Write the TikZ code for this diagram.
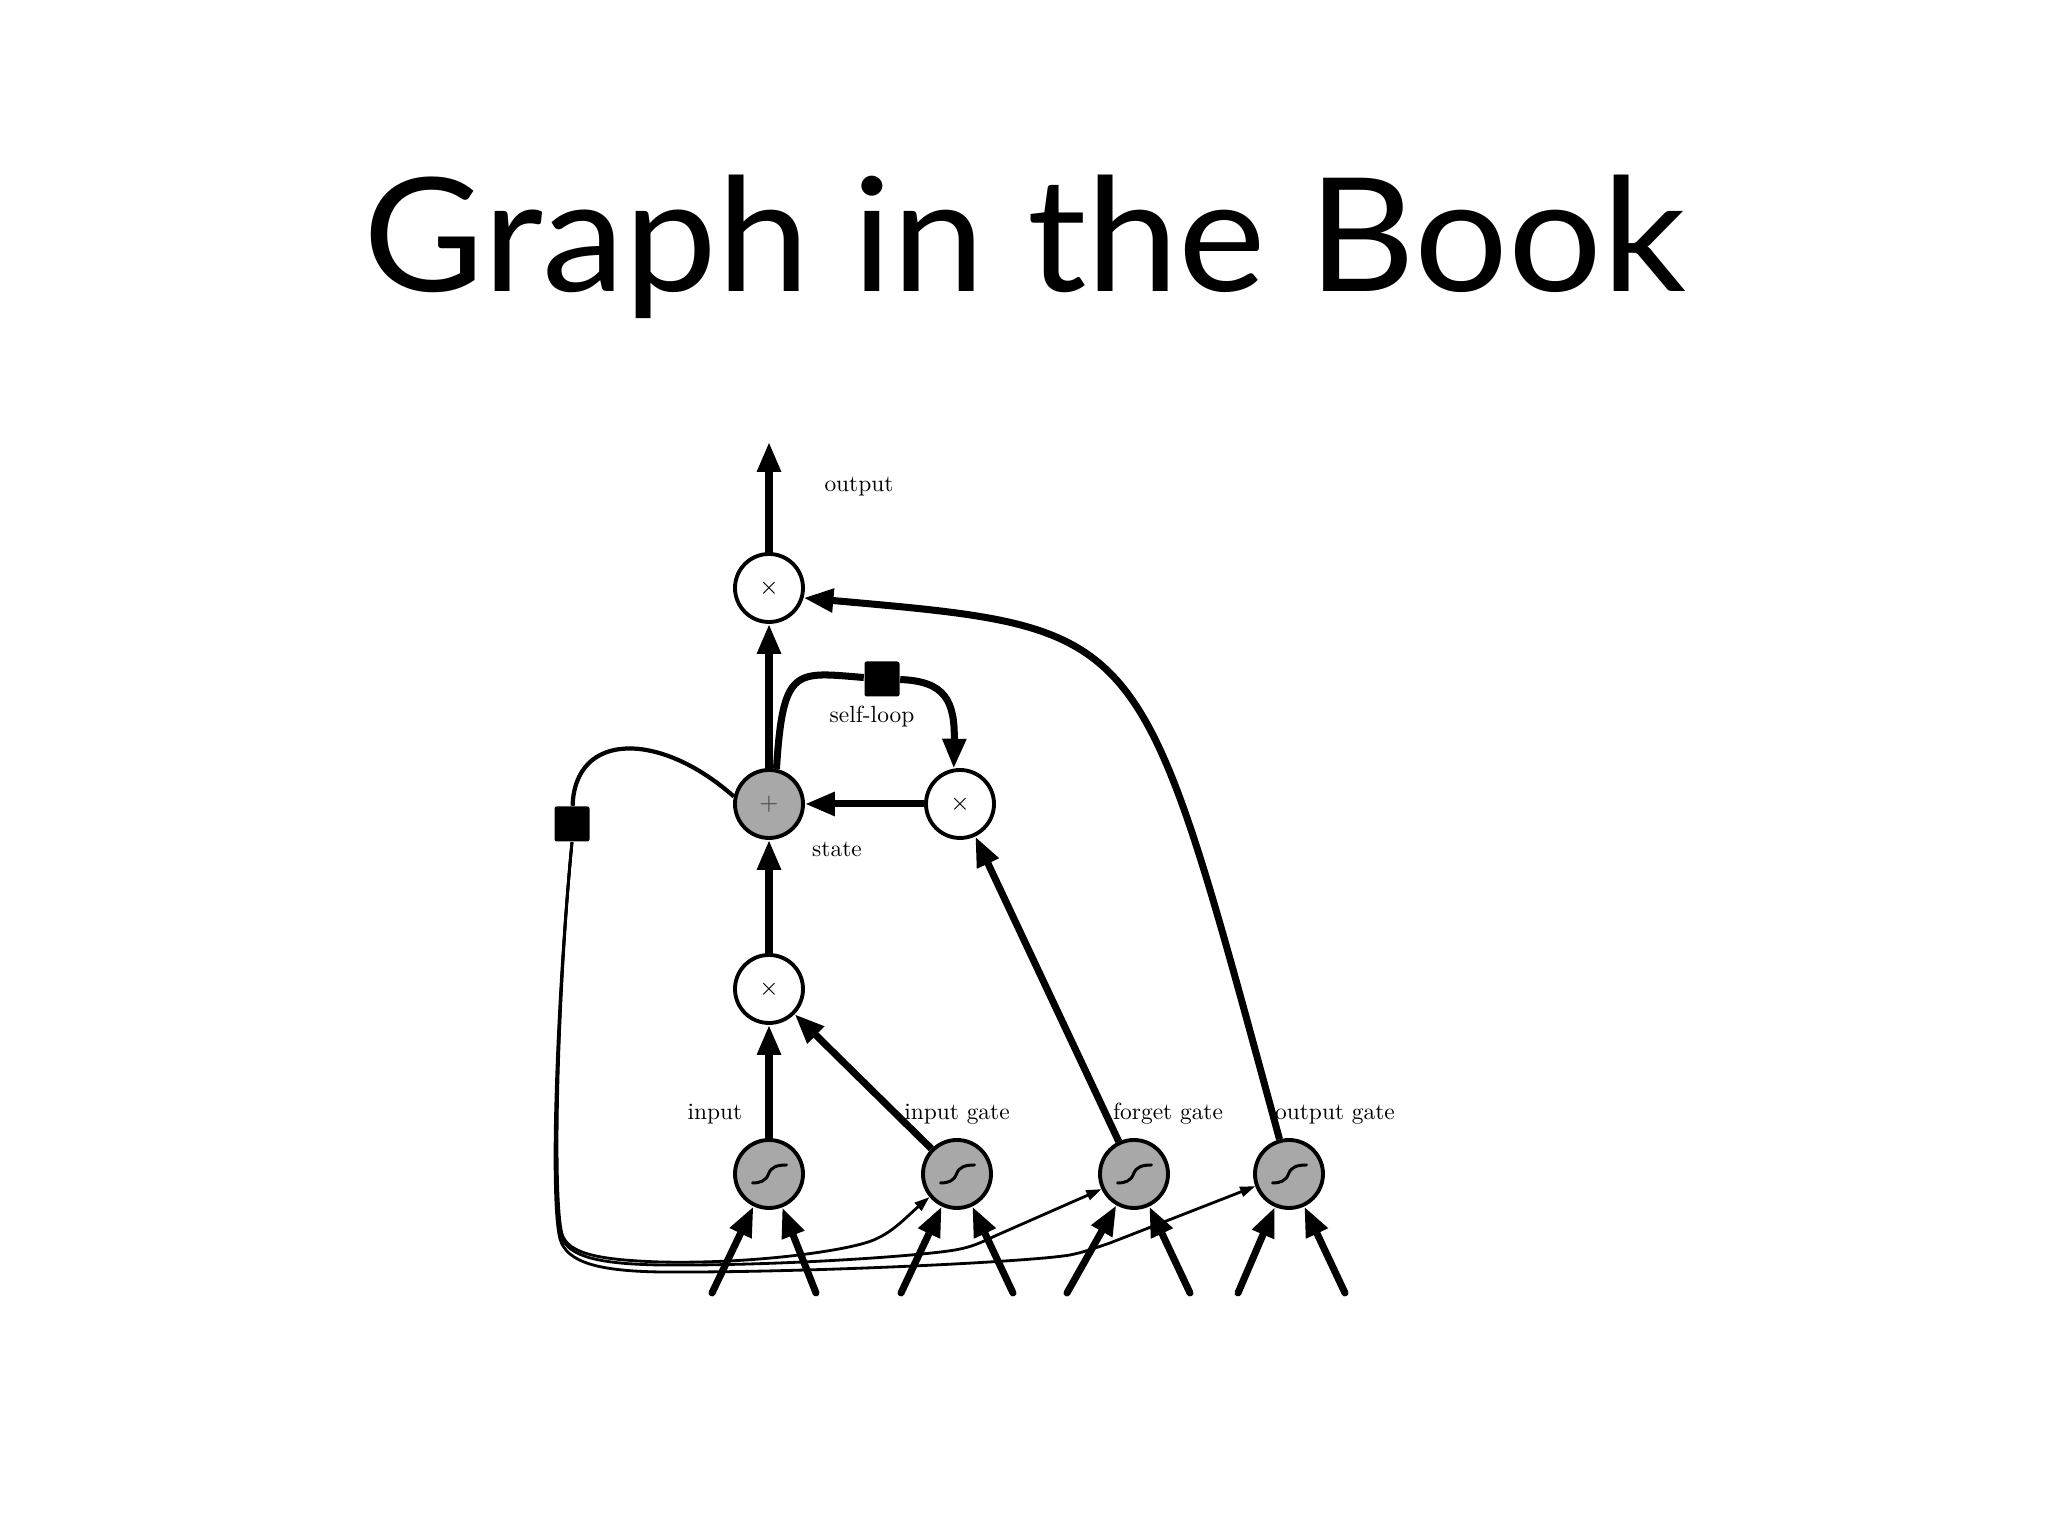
\documentclass[tikz,border=0pt]{standalone}
\usepackage{fontspec}
\usepackage{tikz}
\usetikzlibrary{arrows.meta}
\newfontfamily\titlefont{Lato}
\definecolor{nodegray}{RGB}{168,168,168}

\begin{document}
\begin{tikzpicture}[>={Triangle[length=8.5pt,width=6.4pt]},
  op/.style={circle,draw,line width=1.1,minimum size=6.8mm,inner sep=0pt,fill=white,font=\fontsize{6.5}{8}\selectfont},
  sig/.style={op,fill=nodegray,path picture={\draw[line width=0.85pt,line cap=round,shift={(path picture bounding box.center)}]
      (-0.165,-0.09) .. controls (-0.09,-0.09) and (-0.03,-0.07) .. (-0.005,0) .. controls (0.02,0.07) and (0.08,0.09) .. (0.175,0.09);}},
  sq/.style={fill=black,minimum size=3.5mm,inner sep=0pt,rounded corners=0.6pt},
  lbl/.style={scale=0.666,anchor=base},
  flow/.style={line width=2,->},
  feed/.style={line width=2,line cap=round,->},
  skip/.style={line width=0.8,-{Triangle[length=4.3pt,width=2.9pt]}}]
  \fill[white] (0,0) rectangle (20.48,15.36);
  \node[font=\titlefont\fontsize{45}{54}\selectfont,anchor=base,xscale=1.047] (title) at (10.25,12.44) {Graph in the Book};

  \node[op] (mulout) at (7.69,9.48) {$\times$};
  \node[op,fill=nodegray] (state) at (7.69,7.32) {\color{black!70}$+$};
  \node[op] (mulloop) at (9.60,7.32) {$\times$};
  \node[op] (mulin) at (7.69,5.47) {$\times$};
   \node[sig] (sigin) at (7.69,3.62) {};
   \node[sig] (sigig) at (9.57,3.62) {};
   \node[sig] (sigfg) at (11.34,3.62) {};
   \node[sig] (sigog) at (12.89,3.62) {};
  \node[sq] (sqloop) at (8.82,8.57) {};
  \node[sq] (sqback) at (5.72,7.12) {};
  \coordinate (outtip) at (7.69,10.94);

  \node[lbl] (lout) at (8.59,10.44) {output};
  \node[lbl] (lloop) at (8.72,8.13) {self-loop};
  \node[lbl] (lstate) at (8.37,6.79) {state};
  \node[lbl] (linput) at (7.15,4.16) {input};
  \node[lbl] (lig) at (9.57,4.16) {input gate};
  \node[lbl] (lfg) at (11.68,4.16) {forget gate};
  \node[lbl] (logate) at (13.35,4.16) {output gate};

  \draw[flow] (mulout) -- (outtip);
  \draw[flow] (state) -- (mulout);
  \draw[flow] (mulloop) -- (state);
  \draw[flow] (mulin) -- (state);
  \draw[flow] (sigin) -- (mulin);
  \draw[flow] (sigig) -- (mulin);
  \draw[flow] (sigfg) -- (mulloop);
  \draw[flow] (sigog) .. controls (11.38,9.15) and (11.50,9.07) .. (mulout.-16);
  \draw[flow,-] (state.78) .. controls (7.83,8.70) and (7.95,8.64) .. (sqloop);
  \draw[flow] (sqloop) .. controls (9.45,8.55) and (9.55,8.35) .. (mulloop.100);

  \draw[line width=1.2] (state.168) .. controls (6.6,8.05) and (5.75,8.05) .. (sqback);
  \draw[skip] (sqback.south) .. controls (5.58,5.5) and (5.52,3.4) .. (5.62,3.02) .. controls (5.68,2.82) and (6.0,2.76) .. (6.6,2.74)
     .. controls (7.5,2.72) and (8.35,2.84) .. (8.65,2.93) .. controls (8.9,3.0) and (9.05,3.18) .. (sigig.220);
  \draw[skip] (sqback.south) .. controls (5.58,5.5) and (5.51,3.4) .. (5.61,3.0) .. controls (5.68,2.79) and (6.0,2.72) .. (6.6,2.71)
     .. controls (7.8,2.70) and (9.2,2.80) .. (9.55,2.86) .. controls (9.72,2.89) and (9.80,2.93) .. (9.95,3.0) -- (sigfg.205);
  \draw[skip] (sqback.south) .. controls (5.58,5.5) and (5.49,3.4) .. (5.60,2.97) .. controls (5.67,2.73) and (6.0,2.65) .. (6.6,2.64)
     .. controls (8.0,2.63) and (10.3,2.74) .. (10.7,2.81) .. controls (10.85,2.84) and (10.95,2.88) .. (11.1,2.93) -- (sigog.200);

  \coordinate (inl1) at (7.12,2.43);
  \coordinate (inr1) at (8.16,2.43);
  \coordinate (inl2) at (9.01,2.43);
  \coordinate (inr2) at (10.13,2.43);
  \coordinate (inl3) at (10.67,2.43);
  \coordinate (inr3) at (11.90,2.43);
  \coordinate (inl4) at (12.38,2.43);
  \coordinate (inr4) at (13.45,2.43);
  \draw[feed] (inl1) -- (sigin);
  \draw[feed] (inr1) -- (sigin);
  \draw[feed] (inl2) -- (sigig);
  \draw[feed] (inr2) -- (sigig);
  \draw[feed] (inl3) -- (sigfg);
  \draw[feed] (inr3) -- (sigfg);
  \draw[feed] (inl4) -- (sigog);
  \draw[feed] (inr4) -- (sigog);
\end{tikzpicture}
\end{document}
